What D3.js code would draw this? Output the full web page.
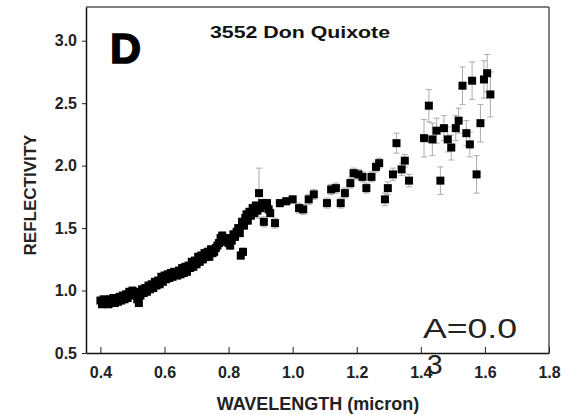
<!DOCTYPE html>
<html>
<head>
<meta charset="utf-8">
<script src="https://cdn.jsdelivr.net/npm/d3@7"></script>
<style>
  body { margin: 0; background: #fff; }
  text { font-family: "Liberation Sans", Arial, sans-serif; }
</style>
</head>
<body>
<svg id="chart" width="570" height="415"></svg>
<script>
// wavelength (micron), reflectivity and error
var wavelength = [
  0.400, 0.405, 0.410, 0.415, 0.420, 0.425, 0.430, 0.435, 0.440, 0.445,
  0.450, 0.455, 0.460, 0.465, 0.470, 0.475, 0.480, 0.485, 0.490, 0.495,
  0.500, 0.505, 0.510, 0.515, 0.520, 0.525, 0.530, 0.535, 0.540, 0.545,
  0.550, 0.555, 0.560, 0.565, 0.570, 0.575, 0.580, 0.585, 0.590, 0.595,
  0.600, 0.605, 0.610, 0.615, 0.620, 0.625, 0.630, 0.640, 0.645, 0.650,
  0.655, 0.660, 0.665, 0.670, 0.675, 0.680, 0.685, 0.690, 0.695, 0.700,
  0.705, 0.710, 0.715, 0.720, 0.725, 0.730, 0.735, 0.740, 0.745, 0.750,
  0.755, 0.760, 0.765, 0.770, 0.775, 0.780, 0.785, 0.790, 0.795, 0.800,
  0.805, 0.810, 0.815, 0.820, 0.825, 0.830, 0.835, 0.838, 0.845, 0.842,
  0.848, 0.852, 0.856, 0.860, 0.865, 0.870, 0.875, 0.880, 0.885, 0.890,
  0.895, 0.900, 0.905, 0.910, 0.915, 0.920, 0.925, 0.930, 0.945, 0.960,
  0.980, 1.000, 1.020, 1.033, 1.050, 1.066, 1.107, 1.120, 1.135, 1.150,
  1.163, 1.180, 1.190, 1.205, 1.218, 1.230, 1.246, 1.260, 1.270, 1.288,
  1.297, 1.313, 1.324, 1.340, 1.350, 1.363, 1.410, 1.425, 1.436, 1.449,
  1.461, 1.472, 1.484, 1.495, 1.509, 1.518, 1.530, 1.542, 1.553, 1.560,
  1.574, 1.586, 1.597, 1.607, 1.617
];
var reflectivity = [
  0.92, 0.89, 0.93, 0.90, 0.92, 0.89, 0.93, 0.90, 0.94, 0.90,
  0.93, 0.91, 0.95, 0.92, 0.96, 0.93, 0.97, 0.94, 0.99, 0.96,
  1.00, 0.97, 0.99, 0.93, 0.90, 0.96, 1.01, 0.98, 1.02, 0.99,
  1.04, 1.01, 1.05, 1.02, 1.07, 1.04, 1.08, 1.05, 1.11, 1.07,
  1.12, 1.09, 1.13, 1.10, 1.14, 1.11, 1.15, 1.12, 1.16, 1.13,
  1.18, 1.14, 1.19, 1.15, 1.20, 1.18, 1.23, 1.19, 1.24, 1.21,
  1.27, 1.23, 1.28, 1.25, 1.30, 1.27, 1.31, 1.27, 1.33, 1.30,
  1.31, 1.34, 1.36, 1.38, 1.42, 1.44, 1.41, 1.39, 1.42, 1.38,
  1.36, 1.40, 1.45, 1.43, 1.47, 1.50, 1.46, 1.28, 1.31, 1.55,
  1.52, 1.58, 1.61, 1.56, 1.63, 1.60, 1.66, 1.62, 1.68, 1.64,
  1.78, 1.66, 1.70, 1.55, 1.68, 1.70, 1.65, 1.62, 1.54, 1.70,
  1.715, 1.73, 1.66, 1.65, 1.73, 1.77, 1.70, 1.81, 1.82, 1.70,
  1.78, 1.86, 1.94, 1.93, 1.91, 1.82, 1.91, 1.99, 2.02, 1.73,
  1.82, 1.93, 2.18, 1.97, 2.04, 1.88, 2.22, 2.48, 2.21, 2.28,
  1.88, 2.30, 2.21, 2.145, 2.30, 2.36, 2.64, 2.26, 2.17, 2.68,
  1.93, 2.34, 2.69, 2.74, 2.57
];
var errors = [
  0.02, 0.02, 0.02, 0.02, 0.02, 0.02, 0.02, 0.02, 0.02, 0.02,
  0.02, 0.02, 0.02, 0.02, 0.02, 0.02, 0.02, 0.02, 0.02, 0.02,
  0.02, 0.02, 0.02, 0.02, 0.02, 0.02, 0.02, 0.02, 0.02, 0.02,
  0.02, 0.02, 0.02, 0.02, 0.02, 0.02, 0.02, 0.02, 0.02, 0.02,
  0.025, 0.025, 0.025, 0.025, 0.025, 0.025, 0.025, 0.025, 0.025, 0.025,
  0.025, 0.025, 0.025, 0.025, 0.025, 0.025, 0.025, 0.025, 0.025, 0.025,
  0.03, 0.03, 0.03, 0.03, 0.03, 0.03, 0.03, 0.03, 0.03, 0.03,
  0.03, 0.03, 0.03, 0.03, 0.03, 0.03, 0.03, 0.03, 0.03, 0.03,
  0.03, 0.03, 0.03, 0.03, 0.03, 0.03, 0.03, 0.03, 0.03, 0.03,
  0.03, 0.03, 0.03, 0.03, 0.03, 0.03, 0.03, 0.03, 0.03, 0.03,
  0.20, 0.03, 0.03, 0.04, 0.03, 0.03, 0.03, 0.03, 0.04, 0.03,
  0.03, 0.03, 0.04, 0.04, 0.04, 0.04, 0.04, 0.04, 0.04, 0.04,
  0.04, 0.04, 0.04, 0.04, 0.04, 0.04, 0.04, 0.04, 0.04, 0.05,
  0.05, 0.05, 0.08, 0.05, 0.05, 0.05, 0.15, 0.13, 0.13, 0.10,
  0.11, 0.10, 0.10, 0.10, 0.10, 0.10, 0.15, 0.10, 0.10, 0.15,
  0.15, 0.15, 0.15, 0.15, 0.18
];
var xTicks = [0.4, 0.6, 0.8, 1.0, 1.2, 1.4, 1.6, 1.8];
var xMinorTicks = [0.5, 0.7, 0.9, 1.1, 1.3, 1.5, 1.7];
var yTicks = [0.5, 1.0, 1.5, 2.0, 2.5, 3.0];
var yMinorTicks = [0.75, 1.25, 1.75, 2.25, 2.75];

var data = wavelength.map(function (w, i) {
    return { x: w, y: reflectivity[i], e: errors[i] };
});

var svg = d3.select("#chart"),
    margin = { top: 7, right: 21, bottom: 62, left: 86 },
    width = +svg.attr("width") - margin.left - margin.right,
    height = +svg.attr("height") - margin.top - margin.bottom;

var x = d3.scaleLinear().domain([0.355, 1.8]).range([0, width]),
    y = d3.scaleLinear().domain([0.5, 3.27]).range([height, 0]);

var g = svg.append("g").attr("transform", "translate(" + margin.left + "," + margin.top + ")");

// error bars
var eb = g.append("g").attr("stroke", "#ababab").attr("stroke-width", 1);
data.forEach(function (d) {
    eb.append("line")
        .attr("x1", x(d.x)).attr("x2", x(d.x))
        .attr("y1", y(d.y - d.e)).attr("y2", y(d.y + d.e));
    [d.y - d.e, d.y + d.e].forEach(function (v) {
        eb.append("line")
            .attr("x1", x(d.x) - 3).attr("x2", x(d.x) + 3)
            .attr("y1", y(v)).attr("y2", y(v));
    });
});

// markers
g.append("g").selectAll("rect")
    .data(data)
    .enter()
    .append("rect")
    .attr("x", function (d) { return x(d.x) - 4; })
    .attr("y", function (d) { return y(d.y) - 4; })
    .attr("width", 8)
    .attr("height", 8)
    .attr("fill", "#000");

// frame: top and right lines are lighter
g.append("line").attr("x1", 0).attr("x2", width).attr("y1", 0).attr("y2", 0)
    .attr("stroke", "#555").attr("stroke-width", 1.5);
g.append("line").attr("x1", width).attr("x2", width).attr("y1", 0).attr("y2", height)
    .attr("stroke", "#555").attr("stroke-width", 1.5);

// x axis, ticks inward
var xAxis = g.append("g").attr("transform", "translate(0," + height + ")");
xAxis.call(d3.axisBottom(x).tickValues(xMinorTicks).tickSize(-3).tickFormat(""));
xAxis.call(d3.axisBottom(x).tickValues(xTicks).tickSize(-6).tickSizeOuter(0).tickPadding(14)
    .tickFormat(d3.format(".1f")));

// y axis, major ticks outward
var yAxis = g.append("g");
yAxis.call(d3.axisLeft(y).tickValues(yMinorTicks).tickSize(-3).tickFormat(""));
yAxis.call(d3.axisLeft(y).tickValues(yTicks).tickSize(4).tickSizeOuter(0).tickPadding(5)
    .tickFormat(d3.format(".1f")));

svg.selectAll(".domain").attr("stroke", "#111").attr("stroke-width", 1.5);
svg.selectAll(".tick line").attr("stroke", "#222");
svg.selectAll(".tick text")
    .attr("font-size", 16)
    .attr("font-weight", "bold")
    .attr("fill", "#222");

// labels
svg.append("text")
    .attr("x", 318).attr("y", 410)
    .attr("text-anchor", "middle")
    .attr("font-size", 18).attr("font-weight", "bold").attr("fill", "#222")
    .text("WAVELENGTH (micron)");

svg.append("text")
    .attr("transform", "translate(36,195) rotate(-90)")
    .attr("text-anchor", "middle")
    .attr("font-size", 17).attr("font-weight", "bold").attr("fill", "#222")
    .text("REFLECTIVITY");

svg.append("text")
    .attr("x", 300).attr("y", 38)
    .attr("text-anchor", "middle")
    .attr("font-size", 16).attr("font-weight", "bold").attr("fill", "#111")
    .attr("textLength", 180).attr("lengthAdjust", "spacingAndGlyphs")
    .text("3552 Don Quixote");

svg.append("text")
    .attr("x", 110).attr("y", 63)
    .attr("font-size", 43).attr("font-weight", "bold").attr("fill", "#000")
    .attr("stroke", "#000").attr("stroke-width", 1.5)
    .text("D");

// the A label wraps onto a second line in the original
svg.append("text")
    .attr("x", 423).attr("y", 338)
    .attr("font-family", "DejaVu Sans")
    .attr("font-size", 28).attr("fill", "#222")
    .attr("textLength", 94).attr("lengthAdjust", "spacingAndGlyphs")
    .text("A=0.0");
svg.append("text")
    .attr("x", 427).attr("y", 374)
    .attr("font-family", "DejaVu Sans")
    .attr("font-size", 28).attr("fill", "#222")
    .text("3");
</script>
</body>
</html>
